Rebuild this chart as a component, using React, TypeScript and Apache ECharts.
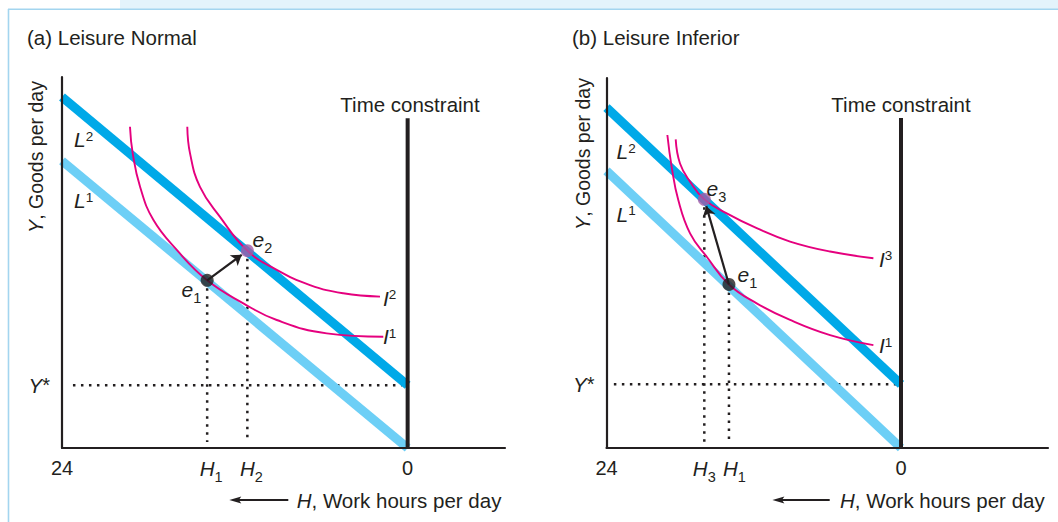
import React, { useEffect, useRef } from "react";
import * as echarts from "echarts";

const FONT = "'Liberation Sans', Arial, Helvetica, sans-serif";
const INK = "#231f20";
const DARK_BLUE = "#00a9e8";
const LIGHT_BLUE = "#6dcff6";
const MAGENTA = "#e5007e";
const PURPLE = "#a25aa6";

// ---------- data: x = hours counted from the left axis (24 h of work there, 0 at the time constraint), y = goods ----------
const panelTitles = ["(a) Leisure Normal", "(b) Leisure Inferior"];

// (a) Leisure Normal
const aL1 = [[0, 77.4], [24, 0]];
const aL2 = [[0, 94.6], [24, 16.9]];
const aI1 = [[4.72, 86.6], [4.91, 79.4], [5.42, 70.4], [6.34, 61.5], [7.97, 53.4], [10.08, 45.2], [12.59, 39.0], [14.91, 34.5], [18.38, 30.9], [22.31, 30.0]];
const aI2 = [[8.7, 86.6], [8.89, 79.4], [9.58, 70.4], [10.97, 62.3], [12.87, 53.2], [14.91, 48.0], [17.22, 43.9], [19.53, 41.7], [22.08, 40.8]];
const aE1 = [10.08, 45.2];
const aE2 = [12.87, 53.2];
const aYStar = 16.9;
const aTimeTop = 88.9;
const aTickValues = [0, aE1[0], aE2[0], 24];
const aTickLabels = ["24", "{j|H}{b|1}", "{j|H}{b|2}", "0"];

// (b) Leisure Inferior
const bL1 = [[0, 74.9], [24, 0]];
const bL2 = [[0, 92.0], [24, 17.2]];
const bI1 = [[4.96, 84.6], [5.31, 76.0], [5.85, 67.0], [6.81, 58.0], [8.17, 51.7], [9.98, 44.2], [12.24, 39.1], [14.96, 34.6], [18.22, 30.5], [21.75, 27.8]];
const bI3 = [[5.64, 83.4], [5.99, 76.9], [6.81, 72.0], [7.97, 67.2], [9.8, 63.4], [12.24, 59.4], [14.96, 55.8], [18.22, 53.1], [21.75, 51.3]];
const bE1 = [9.98, 44.2];
const bE3 = [7.97, 67.2];
const bYStar = 17.2;
const bTimeTop = 89.2;
const bTickValues = [0, bE3[0], bE1[0], 24];
const bTickLabels = ["24", "{i|H}{b|3}", "{k|H}{b|1}", "0"];

// ---------- helpers ----------
const richSup = {
  m: { fontSize: 21, fontStyle: "italic", lineHeight: 21, fontFamily: FONT, color: INK },
  p: { fontSize: 13.5, lineHeight: 12, verticalAlign: "top", fontFamily: FONT, color: INK },
};
const richSub = {
  m: { fontSize: 21, fontStyle: "italic", lineHeight: 32, fontFamily: FONT, color: INK },
  b: { fontSize: 14.5, lineHeight: 14, verticalAlign: "bottom", fontFamily: FONT, color: INK },
};
const richItalic = { m: { fontSize: 20.5, fontStyle: "italic", fontFamily: FONT, color: INK } };
const richItalicSmall = { m: { fontSize: 19.5, fontStyle: "italic", fontFamily: FONT, color: INK } };

function txt(x: number, y: number, text: string, opts: any = {}) {
  return {
    type: "text",
    x,
    y,
    rotation: opts.rotation || 0,
    silent: true,
    z: 50,
    style: {
      text,
      fill: INK,
      fontSize: opts.fontSize || 20.5,
      fontFamily: FONT,
      align: opts.align || "left",
      verticalAlign: "middle",
      rich: opts.rich,
    },
  };
}

function panelSeries(i: number, p: any) {
  const ax = { xAxisIndex: i, yAxisIndex: i, silent: true, animation: false };
  const dotted = { type: [2.5, 5.5], width: 2.5, color: INK };
  const end = [
    p.from[0] + p.frac * (p.to[0] - p.from[0]),
    p.from[1] + p.frac * (p.to[1] - p.from[1]),
  ];
  return [
    { ...ax, type: "line", data: [[p.ys0, p.yStar], [p.ys1, p.yStar]], showSymbol: false, lineStyle: dotted, z: 1 },
    { ...ax, type: "line", data: [[p.from[0], p.from[1]], [p.from[0], 1.6]], showSymbol: false, lineStyle: dotted, z: 1 },
    { ...ax, type: "line", data: [[p.to[0], p.to[1]], [p.to[0], 1.6]], showSymbol: false, lineStyle: dotted, z: 1 },
    { ...ax, type: "line", data: p.L1, showSymbol: false, lineStyle: { color: LIGHT_BLUE, width: 9, cap: "butt" }, z: 2 },
    { ...ax, type: "line", data: p.L2, showSymbol: false, lineStyle: { color: DARK_BLUE, width: 9, cap: "butt" }, z: 2 },
    { ...ax, type: "line", data: p.Ia, smooth: 0.45, showSymbol: false, lineStyle: { color: MAGENTA, width: 1.9 }, z: 3 },
    { ...ax, type: "line", data: p.Ib, smooth: 0.45, showSymbol: false, lineStyle: { color: MAGENTA, width: 1.9 }, z: 3 },
    { ...ax, type: "line", data: [[24, 0], [24, p.timeTop]], showSymbol: false, lineStyle: { color: INK, width: 4 }, z: 6 },
    {
      ...ax,
      type: "lines",
      coordinateSystem: "cartesian2d",
      data: [{ coords: [p.from, end] }],
      symbol: ["none", "arrow"],
      symbolSize: 10,
      lineStyle: { color: INK, width: 2.2, opacity: 1, curveness: 0 },
      z: 7,
    },
    {
      ...ax,
      type: "scatter",
      symbolSize: 13,
      data: [
        { value: p.from, itemStyle: { color: INK } },
        { value: p.to, itemStyle: { color: PURPLE } },
      ],
      z: 8,
    },
  ];
}

function xAxis(i: number, max: number, vals: number[], labels: string[]) {
  const hStyle = { fontSize: 20.5, fontStyle: "italic", lineHeight: 32, fontFamily: FONT, color: INK };
  return {
    gridIndex: i,
    type: "value",
    min: 0,
    max,
    z: 10,
    axisLine: { show: true, onZero: false, lineStyle: { color: INK, width: 2.2 } },
    axisTick: { show: false },
    splitLine: { show: false },
    axisLabel: {
      customValues: vals,
      showMinLabel: true,
      showMaxLabel: true,
      hideOverlap: false,
      margin: 4,
      color: INK,
      fontSize: 20,
      fontFamily: FONT,
      lineHeight: 32,
      formatter: (v: number) => {
        const k = vals.findIndex((t) => Math.abs(t - v) < 1e-6);
        return k >= 0 ? labels[k] : "";
      },
      rich: {
        i: hStyle,
        j: { ...hStyle, padding: [0, 0, 0, 8] },
        k: { ...hStyle, padding: [0, 0, 0, 11] },
        b: { fontSize: 14.5, lineHeight: 14, verticalAlign: "bottom", fontFamily: FONT, color: INK },
      },
    },
  };
}

function yAxis(i: number, yStar: number) {
  return {
    gridIndex: i,
    type: "value",
    min: 0,
    max: 100,
    z: 10,
    axisLine: { show: true, onZero: false, lineStyle: { color: INK, width: 2.2 } },
    axisTick: { show: false },
    splitLine: { show: false },
    axisLabel: {
      customValues: [yStar],
      showMinLabel: true,
      showMaxLabel: true,
      margin: 12,
      color: INK,
      fontSize: 20,
      fontFamily: FONT,
      formatter: () => "{i|Y}*",
      rich: { i: { fontSize: 20.5, fontStyle: "italic", fontFamily: FONT, color: INK } },
    },
  };
}

function arrowLeft(x0: number, x1: number, y: number) {
  return [
    { type: "line", silent: true, z: 50, shape: { x1: x0, y1: y, x2: x1 + 6, y2: y }, style: { stroke: INK, lineWidth: 1.8 } },
    {
      type: "polygon",
      silent: true,
      z: 50,
      shape: { points: [[x1, y], [x1 + 12, y - 3.4], [x1 + 9.5, y], [x1 + 12, y + 3.4]] },
      style: { fill: INK },
    },
  ];
}

const option: any = {
  animation: false,
  backgroundColor: "#ffffff",
  grid: [
    { left: 62, top: 77, width: 443, height: 371 },
    { left: 606.5, top: 78, width: 441.5, height: 370 },
  ],
  xAxis: [xAxis(0, 30.76, aTickValues, aTickLabels), xAxis(1, 35.98, bTickValues, bTickLabels)],
  yAxis: [yAxis(0, aYStar), yAxis(1, bYStar)],
  series: [
    ...panelSeries(0, { L1: aL1, L2: aL2, Ia: aI1, Ib: aI2, from: aE1, to: aE2, yStar: aYStar, timeTop: aTimeTop, ys0: 0.76, ys1: 23.6, frac: 0.86 }),
    ...panelSeries(1, { L1: bL1, L2: bL2, Ia: bI1, Ib: bI3, from: bE1, to: bE3, yStar: bYStar, timeTop: bTimeTop, ys0: 0.6, ys1: 23.66, frac: 0.92 }),
  ],
  graphic: [
    { type: "rect", silent: true, z: 0, shape: { x: 120, y: 0, width: 938, height: 9 }, style: { fill: "#e3f3fb" } },
    { type: "line", silent: true, z: 1, shape: { x1: 8, y1: 9.3, x2: 1058, y2: 9.3 }, style: { stroke: "#a3d5ef", lineWidth: 1.6 } },
    { type: "line", silent: true, z: 1, shape: { x1: 8.5, y1: 9, x2: 8.5, y2: 522 }, style: { stroke: "#a3d5ef", lineWidth: 1.6 } },
    txt(27, 37, panelTitles[0]),
    txt(572, 37, panelTitles[1]),
    txt(410, 104, "Time constraint", { align: "center" }),
    txt(901, 104, "Time constraint", { align: "center" }),
    txt(36, 157, "{m|Y}, Goods per day", { align: "center", rotation: Math.PI / 2, rich: richItalicSmall, fontSize: 19.5 }),
    txt(583, 154, "{m|Y}, Goods per day", { align: "center", rotation: Math.PI / 2, rich: richItalicSmall, fontSize: 19.5 }),
    // panel (a) labels
    txt(74, 139.5, "{m|L}{p|2}", { rich: richSup }),
    txt(74, 200.5, "{m|L}{p|1}", { rich: richSup }),
    txt(181.5, 289.5, "{m|e}{b|1}", { rich: richSub }),
    txt(252.5, 239.5, "{m|e}{b|2}", { rich: richSub }),
    txt(383, 298, "{m|I}{p|2}", { rich: richSup }),
    txt(383, 336.5, "{m|I}{p|1}", { rich: richSup }),
    // panel (b) labels
    txt(616.5, 151.5, "{m|L}{p|2}", { rich: richSup }),
    txt(616.5, 214, "{m|L}{p|1}", { rich: richSup }),
    txt(706.5, 188, "{m|e}{b|3}", { rich: richSub }),
    txt(737.5, 274.5, "{m|e}{b|1}", { rich: richSub }),
    txt(879, 259, "{m|I}{p|3}", { rich: richSup }),
    txt(879, 345.5, "{m|I}{p|1}", { rich: richSup }),
    // H axis captions
    ...arrowLeft(288.3, 229.3, 500),
    txt(296.7, 500, "{m|H}, Work hours per day", { rich: richItalic }),
    ...arrowLeft(829.7, 772.4, 500),
    txt(840, 500, "{m|H}, Work hours per day", { rich: richItalic }),
  ],
};

export default function App() {
  const ref = useRef<HTMLDivElement>(null);
  useEffect(() => {
    if (!ref.current) return;
    const chart = echarts.init(ref.current, null, { renderer: "svg" });
    chart.setOption(option);
    return () => chart.dispose();
  }, []);
  return (
    <div
      ref={ref}
      style={{ position: "absolute", left: 0, top: 0, width: 1058, height: 522, background: "#fff" }}
    />
  );
}
